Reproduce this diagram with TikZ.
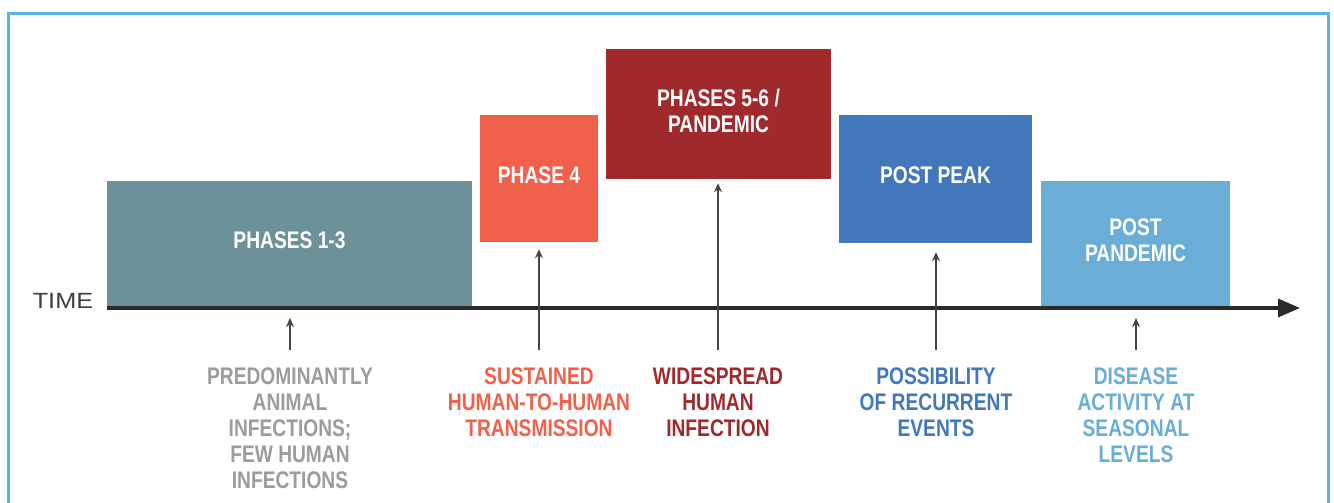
\documentclass[tikz,border=0pt]{standalone}
\usepackage{fontspec}
\usetikzlibrary{arrows.meta}
\newfontfamily\condfont[FakeStretch=0.8]{Liberation Sans Bold}
\newfontfamily\timefont[FakeStretch=1.15]{Liberation Sans}
\definecolor{frameblue}{HTML}{58B5E5}
\definecolor{tealgrey}{HTML}{6D9199}
\definecolor{phasered}{HTML}{F0604A}
\definecolor{darkred}{HTML}{A0292C}
\definecolor{peakblue}{HTML}{4377BC}
\definecolor{lightblue}{HTML}{6AADD6}
\definecolor{labelgrey}{HTML}{9C9C9C}
\definecolor{axisdark}{HTML}{2A2A2A}
\definecolor{arrowdark}{HTML}{444444}
\begin{document}
\begin{tikzpicture}[x=1pt,y=-1pt,
  phasebox/.style={rectangle, inner sep=0pt, text=white, align=center,
    font=\condfont\fontsize{24}{26}\selectfont, text depth=7pt},
  desclabel/.style={anchor=north, inner sep=0pt, align=center,
    font=\condfont\fontsize{24}{26}\selectfont},
  timeaxis/.style={line width=3.5pt, draw=axisdark, -{Triangle[length=22pt,width=18pt]}},
  uparr/.style={line width=2pt, draw=arrowdark, -{Stealth[length=9pt,width=8pt]}, shorten <=19pt},
  frameline/.style={line width=3pt, draw=frameblue}]
\useasboundingbox (0,0) rectangle (1334,503);
\fill[white] (0,0) rectangle (1334,503);
\draw[frameline] (8.5,503) -- (8.5,14) -- (1328.5,14) -- (1328.5,503);

% phase boxes
\node[phasebox, fill=tealgrey, minimum width=365pt, minimum height=126pt] (b13) at (289.5,244) {PHASES 1-3};
\node[phasebox, fill=phasered, minimum width=118pt, minimum height=127pt] (b4) at (539,178.5) {PHASE 4};
\node[phasebox, fill=darkred, minimum width=225pt, minimum height=130pt] (b56) at (718.5,114) {PHASES 5-6 /\\PANDEMIC};
\node[phasebox, fill=peakblue, minimum width=193pt, minimum height=128pt] (bpp) at (935.5,179) {POST PEAK};
\node[phasebox, fill=lightblue, minimum width=189pt, minimum height=126pt] (bpost) at (1135.5,244) {POST\\PANDEMIC};

% time axis
\coordinate (axstart) at (107,308);
\coordinate (axend) at (1300,308);
\draw[timeaxis] (axstart) -- (axend);
\node[font=\timefont\fontsize{22}{26}\selectfont, text=axisdark!90, inner sep=0pt] (time) at (63,300.5) {TIME};

% description labels
\node[desclabel, text=labelgrey] (l13) at (290,368) {PREDOMINANTLY\\ANIMAL\\INFECTIONS;\\FEW HUMAN\\INFECTIONS};
\node[desclabel, text=phasered] (l4) at (539,368) {SUSTAINED\\HUMAN-TO-HUMAN\\TRANSMISSION};
\node[desclabel, text=darkred] (l56) at (718,368) {WIDESPREAD\\HUMAN\\INFECTION};
\node[desclabel, text=peakblue] (lpp) at (936,368) {POSSIBILITY\\OF RECURRENT\\EVENTS};
\node[desclabel, text=lightblue] (lpost) at (1136,368) {DISEASE\\ACTIVITY AT\\SEASONAL\\LEVELS};

% pointer arrows
\coordinate (t13) at (290,318);
\coordinate (tpost) at (1136,318);
\draw[uparr, shorten <=18pt] (l13.north) -- (t13);
\draw[uparr, shorten <=18pt, shorten >=7pt] (l4.north) -- (l4.north |- b4.south);
\draw[uparr, shorten <=18pt, shorten >=4pt] (l56.north) -- (l56.north |- b56.south);
\draw[uparr, shorten <=18pt, shorten >=9pt] (lpp.north) -- (lpp.north |- bpp.south);
\draw[uparr, shorten <=18pt] (lpost.north) -- (tpost);
\end{tikzpicture}
\end{document}
